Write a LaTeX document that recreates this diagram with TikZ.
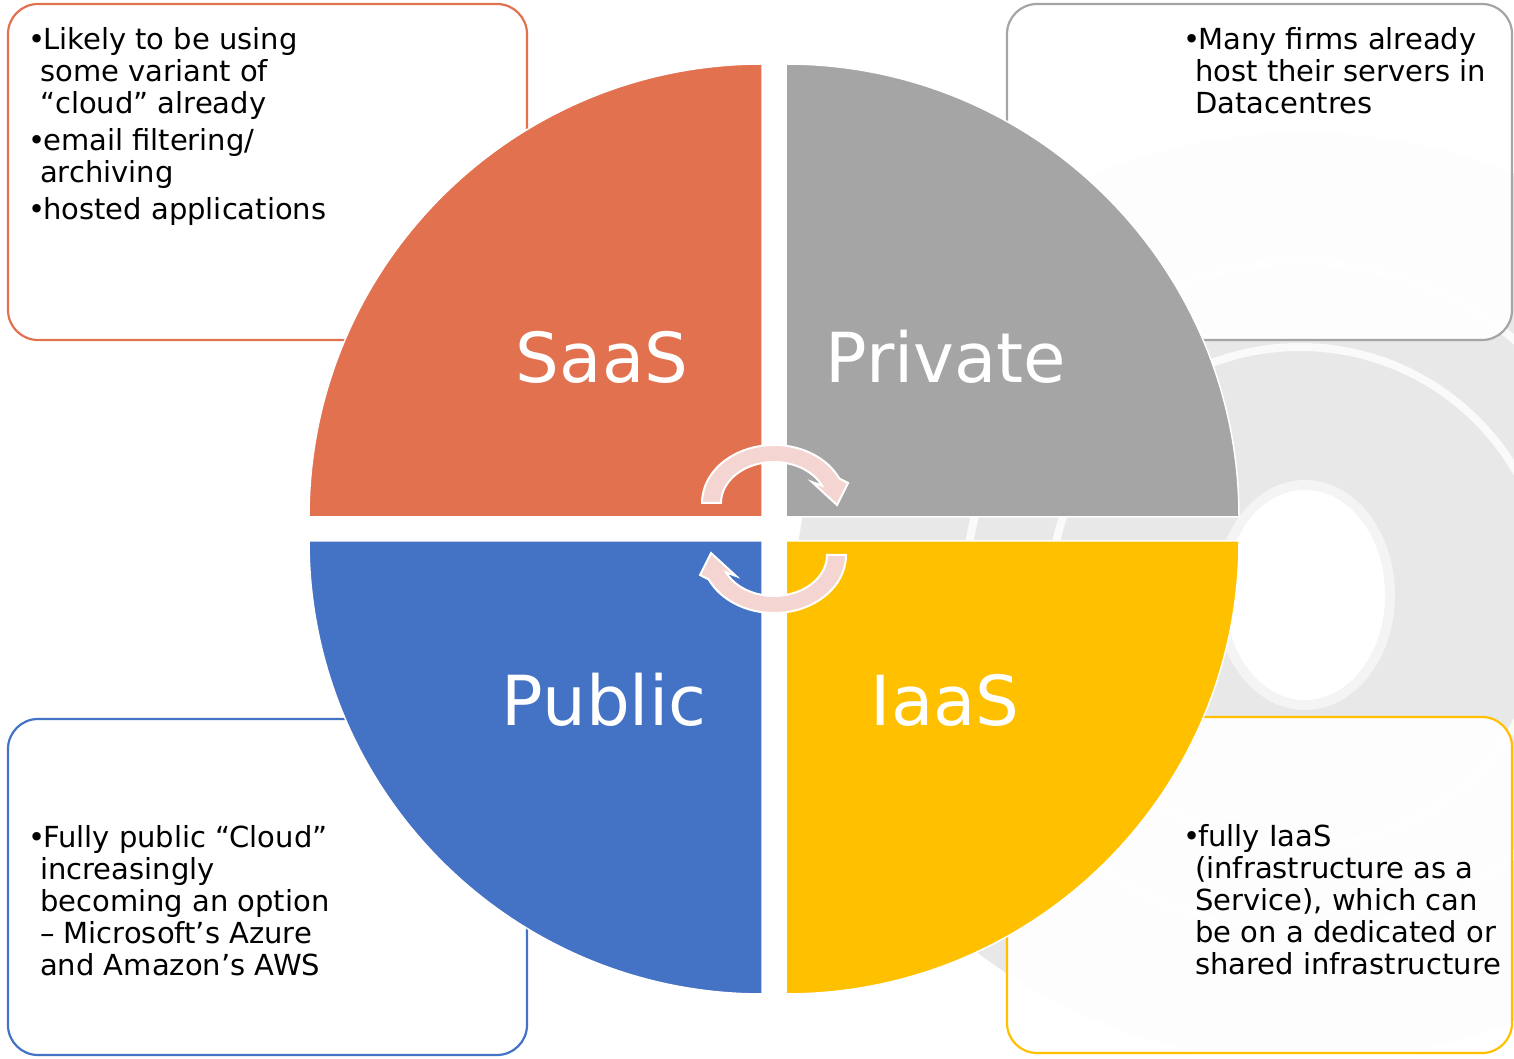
\documentclass[tikz,border=0pt]{standalone}
\usepackage{fontspec}
\setmainfont{DejaVu Sans}
\usetikzlibrary{calc}
\definecolor{saasorange}{HTML}{E2714F}
\definecolor{privgray}{HTML}{A5A5A5}
\definecolor{pubblue}{HTML}{4472C4}
\definecolor{iaasgold}{HTML}{FFC000}
\definecolor{cyclepink}{HTML}{F4D5D1}
\definecolor{discgray}{HTML}{E8E8E8}
\def\bul{\makebox[15pt][l]{\textbullet}}
\def\ind{\hspace*{12pt}}
\def\cyclearrow{\draw[cyclearr] (774,555) ++(180:72 and 58) arc[start angle=180,end angle=25,x radius=72,y radius=58] -- (848,575) -- (837,553) -- (812,576) -- ($(774,555)+(25:53 and 41)$) arc[start angle=25,end angle=180,x radius=53,y radius=41] -- cycle;}

\begin{document}
\begin{tikzpicture}[x=1pt,y=1pt,
	notebox/.style={line width=2.2pt,rounded corners=30pt,fill=white,fill opacity=0.94},
	quarter/.style={draw=white,line width=1.5pt},
	quadlabel/.style={text=white,inner sep=0pt,font=\fontsize{69}{80}\selectfont},
	note/.style={anchor=north west,align=left,inner sep=0pt,font=\fontsize{29}{32}\selectfont},
	cyclearr/.style={fill=cyclepink,draw=white,line width=2pt}]
				\useasboundingbox (0,0) rectangle (1514,1058);
				
				\begin{scope}
					\clip (0,6) rectangle (1514,1058);
					\fill[discgray] (1305,461) ellipse (510 and 464);
					\draw[white,line width=8pt,opacity=0.8] (1300,461) circle (250);
					\draw[white,line width=8pt,opacity=0.8] (1300,461) circle (335);
					\fill[white!50!discgray] (1305,463) ellipse (90 and 115);
					\fill[white] (1305,463) ellipse (80 and 105);
				\end{scope}
				
				\draw[notebox,draw=saasorange] (8,718) rectangle (527,1054);
				\draw[notebox,draw=privgray] (1007,718) rectangle (1512,1054);
				\draw[notebox,draw=pubblue] (8,3) rectangle (527,339);
				\draw[notebox,draw=iaasgold] (1007,5) rectangle (1512,341);
				
				\filldraw[quarter,fill=saasorange] (762,541) -- ++(-453,0) arc[start angle=180,end angle=90,radius=453] -- cycle;
				\filldraw[quarter,fill=privgray] (786,541) -- ++(453,0) arc[start angle=0,end angle=90,radius=453] -- cycle;
				\filldraw[quarter,fill=pubblue] (762,517) -- ++(-453,0) arc[start angle=180,end angle=270,radius=453] -- cycle;
				\filldraw[quarter,fill=iaasgold] (786,517) -- ++(453,0) arc[start angle=0,end angle=-90,radius=453] -- cycle;
				
				\node[quadlabel] (saaslabel) at (602,701) {SaaS};
				\node[quadlabel] (privatelabel) at (946,701) {Private};
				\node[quadlabel] (publiclabel) at (604,358) {Public};
				\node[quadlabel] (iaaslabel) at (945,358) {IaaS};
				
				\cyclearrow
				\begin{scope}[rotate around={180:(774,529)}]
					\cyclearrow
				\end{scope}
				
				\node[note] (saasnote) at (28,1031) {\bul Likely to be using\\ \ind some variant of\\ \ind “cloud” already\\[5pt] \bul email filtering/\\ \ind archiving\\[5pt] \bul hosted applications};
				\node[note] (privatenote) at (1183,1031) {\bul Many firms already\\ \ind host their servers in\\ \ind Datacentres};
				\node[note] (publicnote) at (28,233) {\bul Fully public “Cloud”\\ \ind increasingly\\ \ind becoming an option\\ \ind – Microsoft’s Azure\\ \ind and Amazon’s AWS};
				\node[note] (iaasnote) at (1183,234) {\bul fully IaaS\\ \ind (infrastructure as a\\ \ind Service), which can\\ \ind be on a dedicated or\\ \ind shared infrastructure};
\end{tikzpicture}
\end{document}
